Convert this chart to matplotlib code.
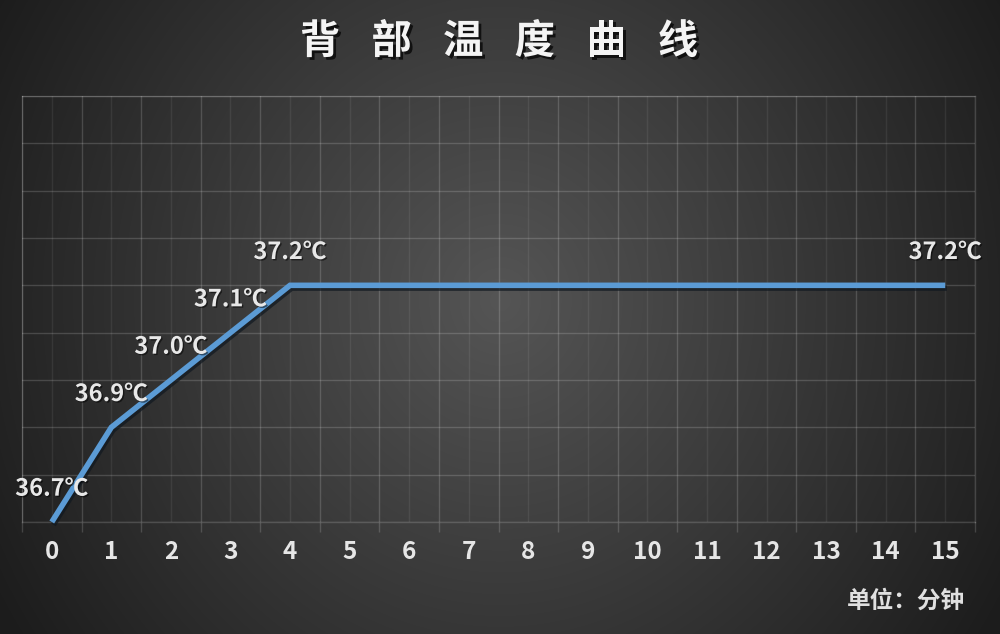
import numpy as np
import matplotlib
matplotlib.use("Agg")
import matplotlib.pyplot as plt
import matplotlib.patheffects as pe
from matplotlib.ticker import MultipleLocator, FixedLocator

plt.rcParams['font.family'] = ['Noto Sans CJK SC', 'DejaVu Sans']

# ---- data ----
minutes = list(range(16))
temps = [36.7, 36.9, 37.0, 37.1, 37.2, 37.2, 37.2, 37.2, 37.2, 37.2,
         37.2, 37.2, 37.2, 37.2, 37.2, 37.2]
labeled_idx = [0, 1, 2, 3, 4, 15]
tick_labels = [str(m) for m in minutes]
title_text = "背部温度曲线"
unit_text = "单位：分钟"

W, H = 1000, 634
fig = plt.figure(figsize=(W / 100, H / 100), dpi=100)

# ---- radial gradient background ----
bg = fig.add_axes([0, 0, 1, 1])
yy, xx = np.mgrid[0:H, 0:W]
r = np.sqrt(((xx - 500) / 580.0) ** 2 + ((yy - 300) / 620.0) ** 2)
c0, c1 = 0x55 / 255, 0x1c / 255
v = c0 - (c0 - c1) * np.clip(r, 0, 1)
img = np.dstack([v, v, v])
bg.imshow(img, extent=[0, 1, 0, 1], aspect='auto', origin='upper')
bg.set_axis_off()

# ---- main axes ----
ax = fig.add_axes([0.022, 1 - 522 / H, 0.953, (522 - 96) / H])
ax.set_facecolor('none')
ax.set_xlim(-0.5, 15.5)
ax.set_ylim(36.7, 37.6)

# grid
ax.yaxis.set_major_locator(MultipleLocator(0.1))
ax.xaxis.set_major_locator(FixedLocator(minutes))
ax.xaxis.set_minor_locator(FixedLocator([m - 0.5 for m in minutes] + [15.5]))
ax.grid(True, which='major', axis='x', color='white', lw=1.0, alpha=0.07)
ax.grid(True, which='minor', axis='x', color='white', lw=1.0, alpha=0.16)
ax.grid(True, which='major', axis='y', color='white', lw=1.0, alpha=0.16)
ax.set_axisbelow(True)
for s in ax.spines.values():
    s.set_color((1, 1, 1, 0.16))
    s.set_linewidth(1.0)

ax.set_xticklabels(tick_labels)
ax.tick_params(axis='x', which='major', length=0, pad=13,
               labelsize=17.5, labelcolor='#e6e6e6')
ax.tick_params(axis='x', which='minor', length=7, color=(1, 1, 1, 0.16), width=1)
for lab in ax.get_xticklabels():
    lab.set_fontweight('bold')
ax.tick_params(axis='y', left=False, labelleft=False)

# line
ax.plot(minutes, temps, color='#5b9bd5', lw=4.0, solid_capstyle='butt',
        solid_joinstyle='miter', clip_on=False, zorder=5,
        path_effects=[pe.SimpleLineShadow(offset=(1.2, -2.0), shadow_color='#101820',
                                          alpha=0.7), pe.Normal()])

# data labels
for i in labeled_idx:
    ax.annotate(f"{temps[i]:.1f}℃", (minutes[i], temps[i]), xytext=(0, 24),
                textcoords='offset points', ha='center', va='center',
                fontsize=17, fontweight='bold', color='#e8e8e8', zorder=6,
                annotation_clip=False,
                path_effects=[pe.withSimplePatchShadow(offset=(1, -1),
                                                       shadow_rgbFace='black', alpha=0.5)])

# title (spaced characters)
for k, ch in enumerate(title_text):
    fig.text((320 + 71.6 * k) / W, 1 - 42 / H, ch, ha='center', va='center',
             fontsize=29, fontweight='bold', color='#f4f4f4',
             path_effects=[pe.withSimplePatchShadow(offset=(2, -2),
                                                    shadow_rgbFace='black', alpha=0.7)])

# unit
fig.text(906 / W, 1 - 601 / H, unit_text, ha='center', va='center',
         fontsize=17, fontweight='bold', color='#e0e0e0')

fig.savefig('out.png', dpi=100)
